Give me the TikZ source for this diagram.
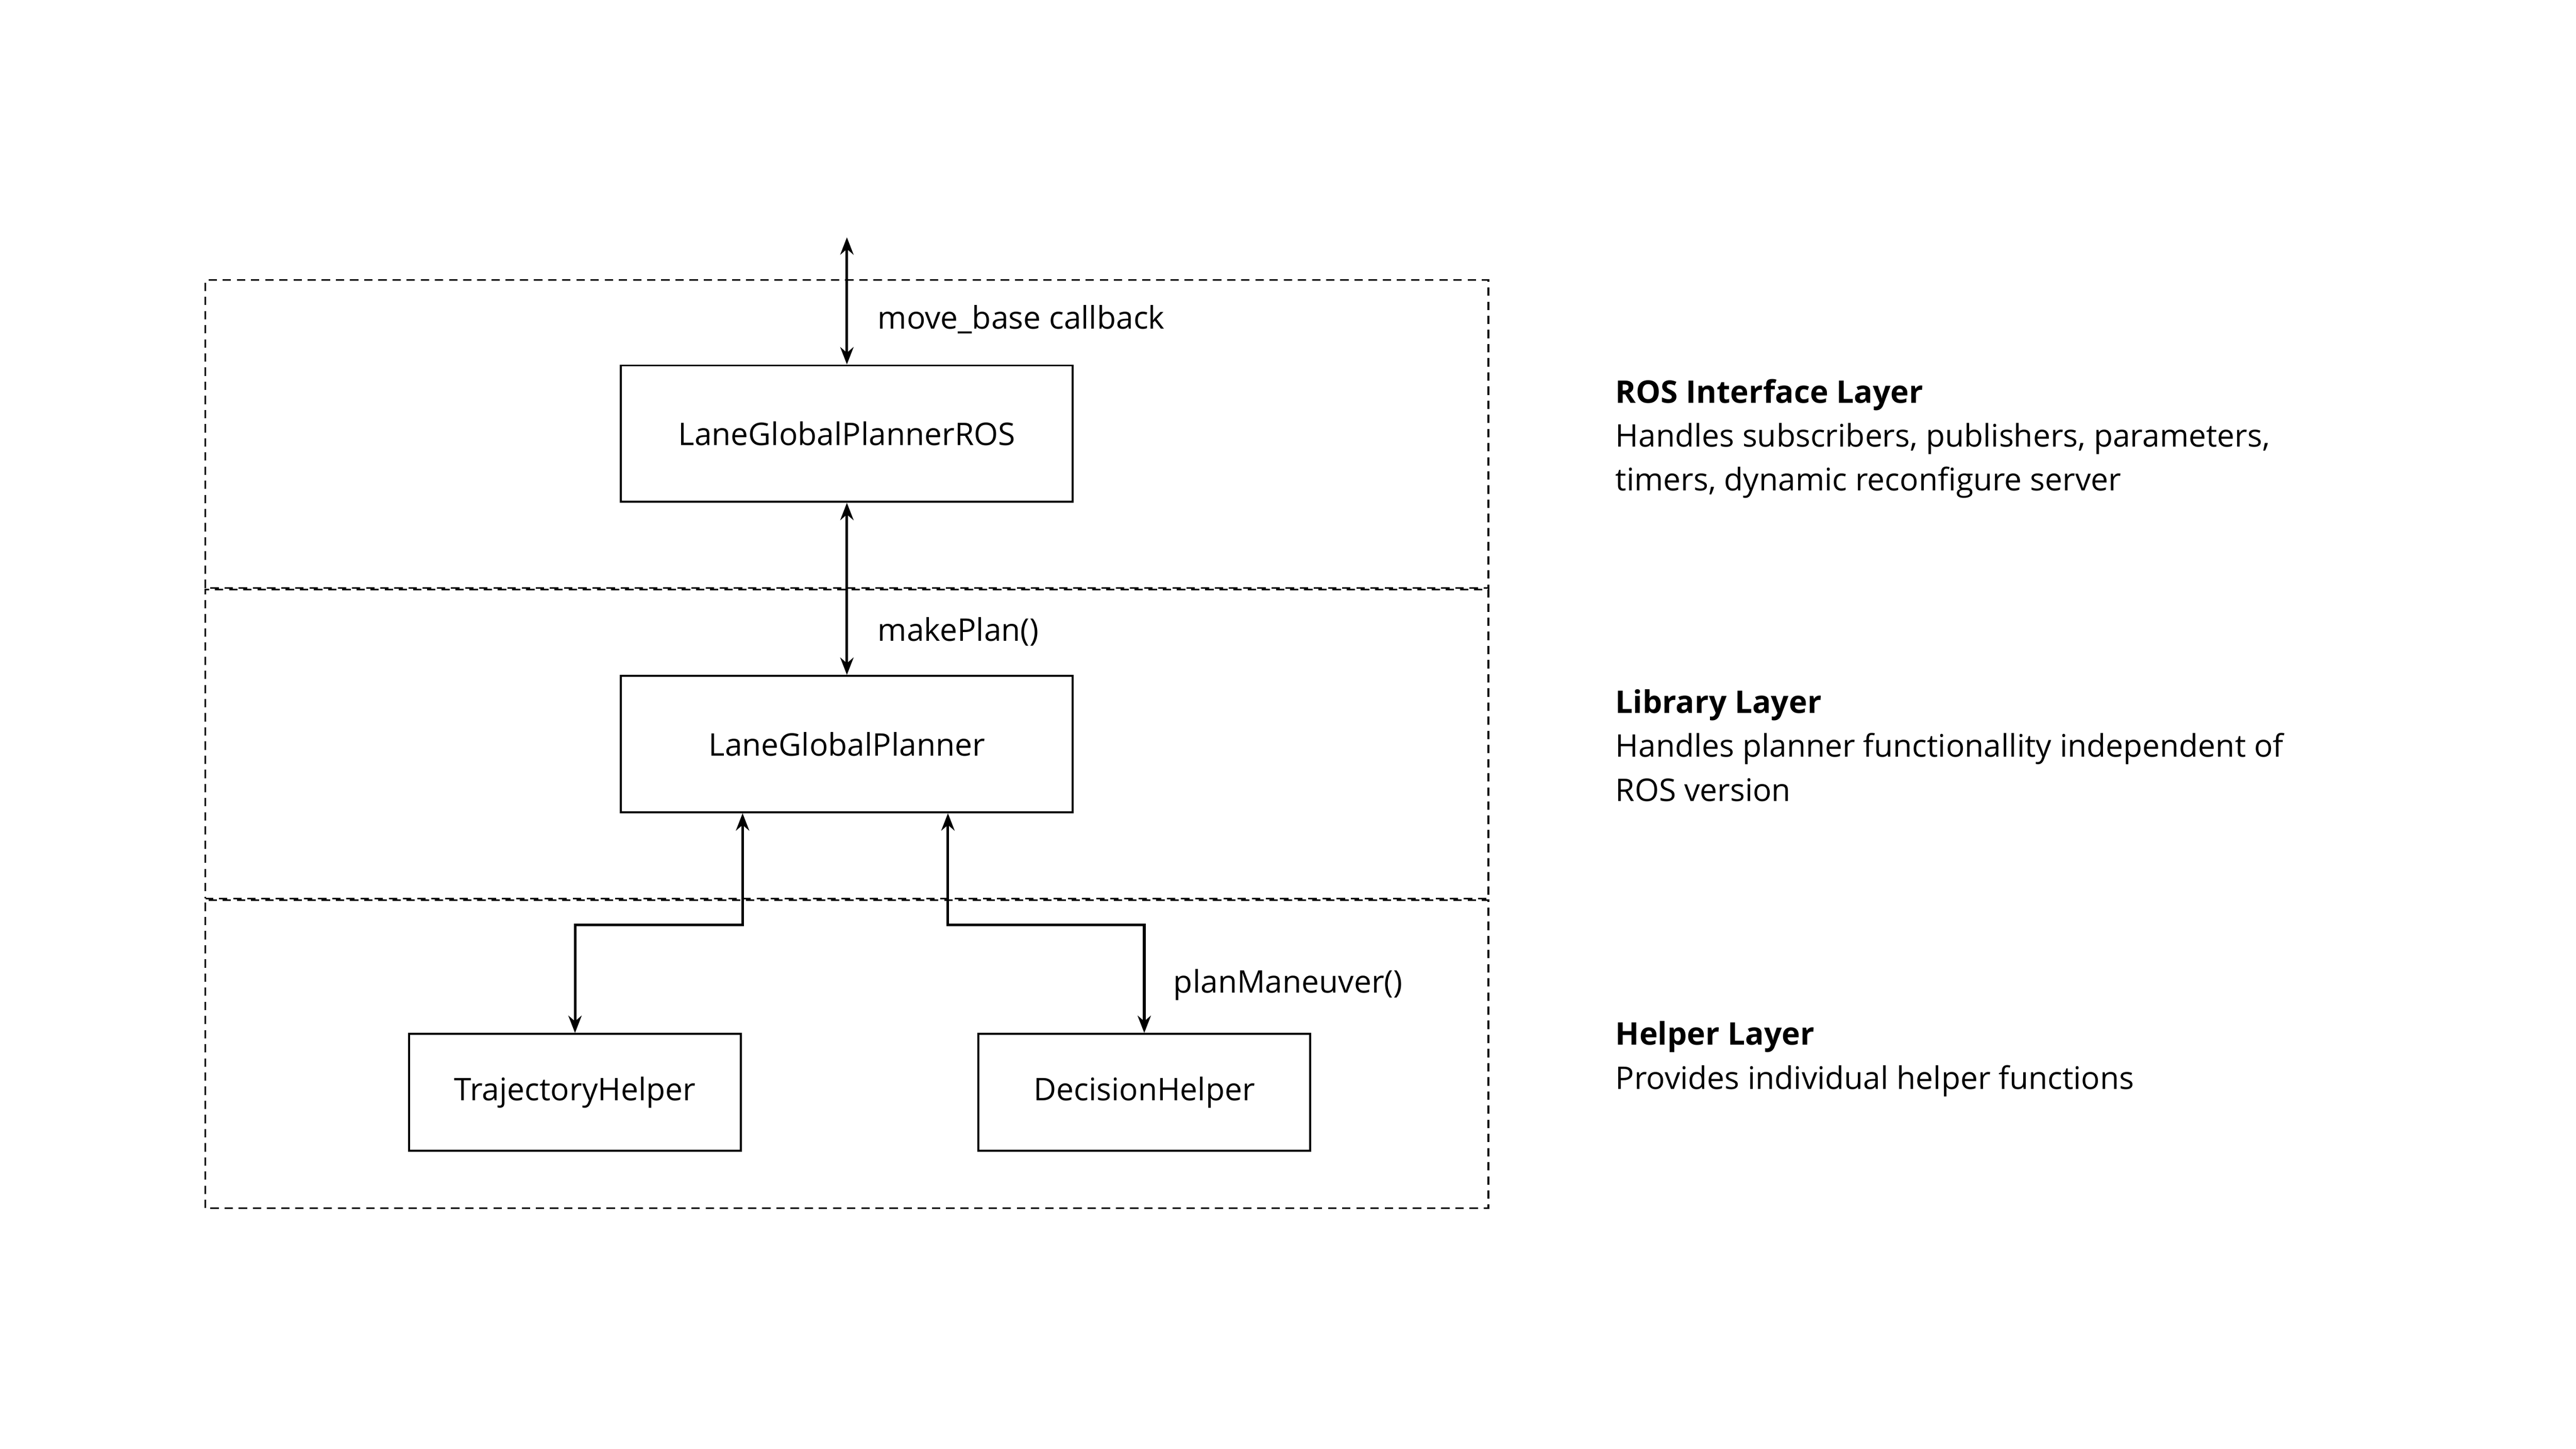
\documentclass[tikz,border=0pt]{standalone}
\usepackage{fontspec}
\setmainfont{Open Sans}
\usetikzlibrary{arrows.meta}

\begin{document}
\begin{tikzpicture}[>={Stealth[length=6pt,width=4.6pt]},
        block/.style = {draw, line width=0.7pt, minimum width=5.5cm, minimum height=1.66cm},
        helper/.style = {draw, line width=0.7pt, minimum width=4.04cm, minimum height=1.42cm},
        layer/.style = {draw, line width=0.6pt, dash pattern=on 2.9pt off 2pt},
        link/.style = {<->, line width=0.9pt},
        note/.style = {anchor=west, inner sep=0pt},
        info/.style = {anchor=north west, inner sep=0pt, align=left},
        font = \fontsize{10.8}{15.2}\selectfont]
            \useasboundingbox (0,-0.19) rectangle (31.36,17.45);

            % layers
            \draw[layer] (2.5,10.29) rectangle (18.12,14.04);
            \draw[layer, dash phase=2.4pt] (2.5,6.51) rectangle (18.12,10.27);
            \draw[layer] (2.5,2.74) rectangle (18.12,6.49);

            \node[block] (ros) at (10.31,12.17) {LaneGlobalPlannerROS};
            \node[block] (lib) at (10.31,8.39)  {LaneGlobalPlanner};
            \node[helper] (traj) at (7.0,4.15)  {TrajectoryHelper};
            \node[helper] (dec) at (13.93,4.15) {DecisionHelper};
            \coordinate (cb) at (10.31,14.56);

            \draw[link] (cb) -- (ros.north);
            \draw[link] (ros.south) -- (lib.north);
            \draw[link] ([xshift=-1.27cm]lib.south) -- ++(0,-1.36) -| (traj.north);
            \draw[link] ([xshift=1.23cm]lib.south) -- ++(0,-1.36) -| (dec.north);

            \node[note] (cbl) at (10.68,13.56) {move\_base callback};
            \node[note] (mpl) at (10.68,9.76)  {makePlan()};
            \node[note] (pml) at (14.28,5.46)  {planManeuver()};

            % layer descriptions
            \node[info] (rosi) at (19.66,12.84) {\textbf{ROS Interface Layer}\\
                Handles subscribers, publishers, parameters,\\
                timers, dynamic reconfigure server};
            \node[info] (libi) at (19.66,9.06) {\textbf{Library Layer}\\
                Handles planner functionallity independent of\\
                ROS version};
            \node[info] (hlpi) at (19.66,5.02) {\textbf{Helper Layer}\\
                Provides individual helper functions};
        \end{tikzpicture}
\end{document}
